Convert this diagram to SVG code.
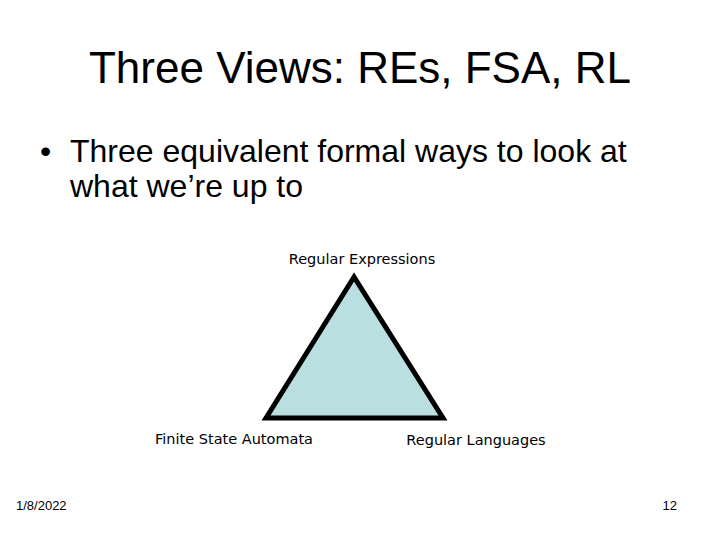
<svg xmlns="http://www.w3.org/2000/svg" width="720" height="540" viewBox="0 0 720 540">
<style>
.t{font-family:"Liberation Sans",Arial,sans-serif;fill:#000}
.l{font-family:"DejaVu Sans",sans-serif;font-size:14.5px;fill:#000}
</style>
<rect width="720" height="540" fill="#fff"/>
<text class="t" x="360" y="83" font-size="44" text-anchor="middle">Three Views: REs, FSA, RL</text>
<text class="t" x="40" y="162" font-size="32">•</text>
<text class="t" x="70" y="162" font-size="32">Three equivalent formal ways to look at</text>
<text class="t" x="70" y="197" font-size="32">what we’re up to</text>
<g id="triangle"><polygon points="354,277 266,418 443,418" fill="#b9dfe0" stroke="#000" stroke-width="5" stroke-linejoin="miter"/></g>
<g id="re"><text class="l" x="362" y="264" text-anchor="middle">Regular Expressions</text></g>
<g id="fsa"><text class="l" x="234" y="444" text-anchor="middle">Finite State Automata</text></g>
<g id="rl"><text class="l" x="476" y="445" text-anchor="middle">Regular Languages</text></g>
<g id="connectors"></g>
<text class="t" x="16" y="510" font-size="13">1/8/2022</text>
<text class="t" x="677" y="510" font-size="13" text-anchor="end">12</text>
</svg>
